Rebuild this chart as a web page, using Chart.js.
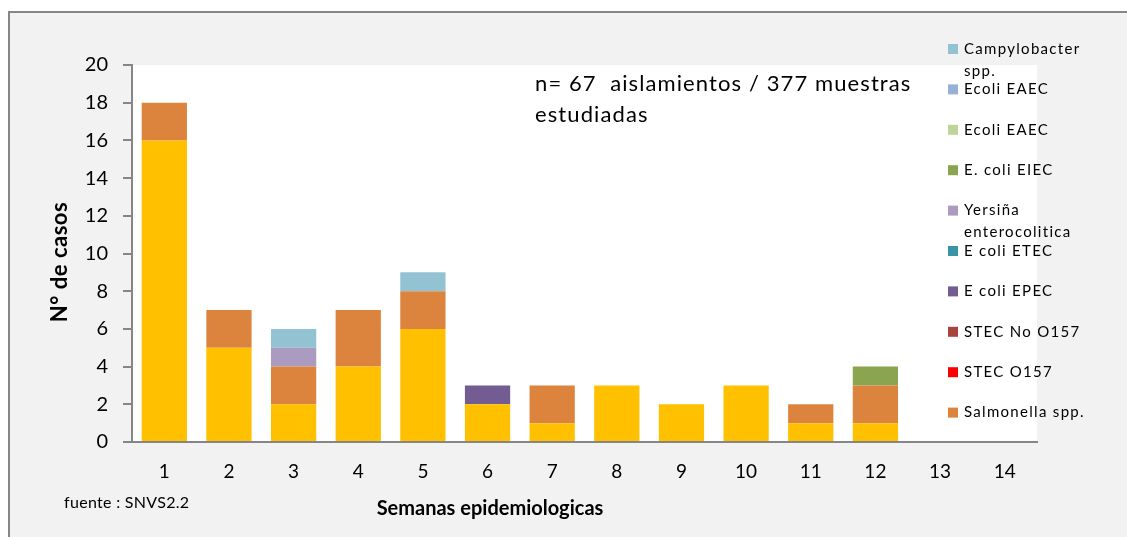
<!DOCTYPE html>
<html>
<head>
  <title>Aislamientos por semana epidemiologica</title>
  <script src="https://cdn.jsdelivr.net/npm/chart.js"></script>
  <style>
    body { margin: 0; background: #fff; }
  </style>
</head>
<body>
  <div style="width: 1127px; height: 537px;">
    <canvas id="barChart" width="1127" height="537"></canvas>
  </div>

  <script>
    // week numbers and cases per agent
    const weeks = ['1', '2', '3', '4', '5', '6', '7', '8', '9', '10', '11', '12', '13', '14'];
    const shigella      = [16, 5, 2, 4, 6, 2, 1, 3, 2, 3, 1, 1, 0, 0];
    const salmonella    = [2, 2, 2, 3, 2, 0, 2, 0, 0, 0, 1, 2, 0, 0];
    const stecO157      = [0, 0, 0, 0, 0, 0, 0, 0, 0, 0, 0, 0, 0, 0];
    const stecNoO157    = [0, 0, 0, 0, 0, 0, 0, 0, 0, 0, 0, 0, 0, 0];
    const ecoliEPEC     = [0, 0, 0, 0, 0, 1, 0, 0, 0, 0, 0, 0, 0, 0];
    const ecoliETEC     = [0, 0, 0, 0, 0, 0, 0, 0, 0, 0, 0, 0, 0, 0];
    const yersinia      = [0, 0, 1, 0, 0, 0, 0, 0, 0, 0, 0, 0, 0, 0];
    const ecoliEIEC     = [0, 0, 0, 0, 0, 0, 0, 0, 0, 0, 0, 1, 0, 0];
    const ecoliEAEC2    = [0, 0, 0, 0, 0, 0, 0, 0, 0, 0, 0, 0, 0, 0];
    const ecoliEAEC     = [0, 0, 0, 0, 0, 0, 0, 0, 0, 0, 0, 0, 0, 0];
    const campylobacter = [0, 0, 1, 0, 1, 0, 0, 0, 0, 0, 0, 0, 0, 0];

    const FONT = 'Lato, "Open Sans", sans-serif';
    const GREY = '#868686';

    // background, frame and the white plot area
    const frame = {
      id: 'frame',
      beforeDraw(chart) {
        const { ctx, chartArea: a, width, height } = chart;
        ctx.save();
        ctx.fillStyle = '#ffffff';
        ctx.fillRect(0, 0, width, height);
        ctx.fillStyle = '#f2f2f2';
        ctx.fillRect(9, 12, width - 9, height - 12);
        ctx.strokeStyle = GREY;
        ctx.lineWidth = 2;
        ctx.beginPath();
        ctx.moveTo(9, height);
        ctx.lineTo(9, 12);
        ctx.lineTo(width, 12);
        ctx.stroke();
        ctx.fillStyle = '#ffffff';
        ctx.fillRect(a.left, a.top, a.right - a.left, a.bottom - a.top);
        ctx.restore();
      }
    };

    // legend on the right, titles and notes
    const extras = {
      id: 'extras',
      afterDraw(chart) {
        const ctx = chart.ctx;
        ctx.save();
        ctx.fillStyle = '#000';
        ctx.textBaseline = 'middle';

        // legend (reverse order, as in the original)
        ctx.font = '15px ' + FONT;
        ctx.letterSpacing = '1.3px';
        ctx.textAlign = 'left';
        const sets = chart.data.datasets.filter(d => !d.noLegend).slice().reverse();
        sets.forEach((d, i) => {
          const y = 49 + i * 40.4;
          ctx.fillStyle = d.backgroundColor;
          ctx.fillRect(948, y - 5, 10, 10);
          ctx.fillStyle = '#000';
          const words = d.label.split(' ');
          const lines = [];
          let cur = '';
          words.forEach(w => {
            const test = cur ? cur + ' ' + w : w;
            if (cur && ctx.measureText(test).width > 135) {
              lines.push(cur);
              cur = w;
            } else {
              cur = test;
            }
          });
          lines.push(cur);
          lines.forEach((l, j) => ctx.fillText(l, 964, y + j * 22));
        });

        // note inside the plot
        ctx.font = '22px ' + FONT;
        ctx.letterSpacing = '1.1px';
        ctx.fillText('n= 67  aislamientos / 377 muestras', 535, 84);
        ctx.fillText('estudiadas', 535, 115);

        // source
        ctx.font = '16px ' + FONT;
        ctx.letterSpacing = '0.3px';
        ctx.fillText('fuente : SNVS2.2', 64, 503);

        // axis titles
        ctx.font = 'bold 20px ' + FONT;
        ctx.letterSpacing = '0px';
        ctx.textAlign = 'center';
        ctx.fillText('Semanas epidemiologicas', 490, 509);
        ctx.translate(60, 262);
        ctx.rotate(-Math.PI / 2);
        ctx.font = 'bold 22px ' + FONT;
        ctx.letterSpacing = '0.5px';
        ctx.fillText('N° de casos', 0, 0);
        ctx.restore();
      }
    };

    function makeSet(label, values, color, noLegend) {
      return {
        label: label,
        data: values,
        backgroundColor: color,
        borderWidth: 0,
        barPercentage: 0.7,
        categoryPercentage: 1,
        noLegend: !!noLegend
      };
    }

    new Chart(document.getElementById('barChart'), {
      type: 'bar',
      data: {
        labels: weeks,
        datasets: [
          makeSet('Shigella spp.', shigella, '#ffc000', true),
          makeSet('Salmonella spp.', salmonella, '#dc843e'),
          makeSet('STEC O157', stecO157, '#ff0000'),
          makeSet('STEC No O157', stecNoO157, '#a8443e'),
          makeSet('E coli EPEC', ecoliEPEC, '#735c91'),
          makeSet('E coli ETEC', ecoliETEC, '#3b93a8'),
          makeSet('Yersiña enterocolitica', yersinia, '#ac9bc0'),
          makeSet('E. coli EIEC', ecoliEIEC, '#8ba44f'),
          makeSet('Ecoli EAEC', ecoliEAEC2, '#bdd59a'),
          makeSet('Ecoli EAEC', ecoliEAEC, '#98afd6'),
          makeSet('Campylobacter spp.', campylobacter, '#93c3d3')
        ]
      },
      options: {
        responsive: false,
        animation: false,
        layout: { padding: { top: 65, right: 90, left: 0, bottom: 0 } },
        plugins: {
          legend: { display: false },
          tooltip: { enabled: false }
        },
        scales: {
          x: {
            stacked: true,
            grid: { display: false, drawTicks: false },
            border: { color: GREY, width: 2 },
            ticks: { color: '#000', font: { family: FONT, size: 19 }, padding: 18 },
            afterFit(scale) { scale.height = 95; }
          },
          y: {
            stacked: true,
            min: 0,
            max: 20,
            grid: { drawOnChartArea: false, color: GREY, lineWidth: 2, tickLength: 9 },
            border: { color: GREY, width: 2 },
            ticks: { stepSize: 2, color: '#000', font: { family: FONT, size: 20 }, padding: 15 },
            afterFit(scale) { scale.width = 132; }
          }
        }
      },
      plugins: [frame, extras]
    });
  </script>
</body>
</html>
